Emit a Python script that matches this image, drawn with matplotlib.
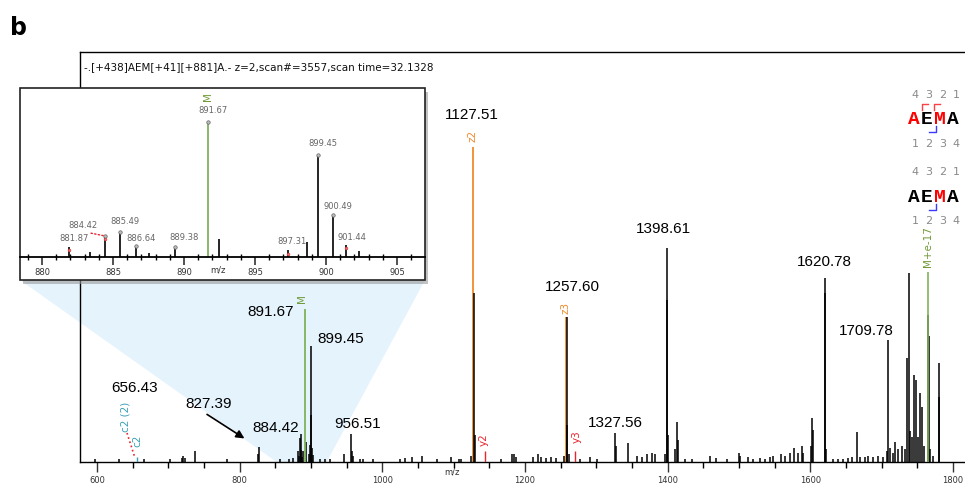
import numpy as np
import matplotlib.pyplot as plt
from matplotlib.patches import Rectangle, Polygon
from matplotlib.lines import Line2D

W, H = 965, 488

# ---- main spectrum (relative intensity, 1127.51 = 100) ----
main_mz = [597, 631, 666, 703, 719, 721, 723, 738, 782, 826, 827.4, 856.5, 869, 875,
           912.6, 919.6, 926.6, 946, 956.5, 957.5, 959, 968.7, 973, 986.5,
           1024.8, 1031.8, 1041, 1055, 1076, 1097, 1108, 1111, 1125, 1128.3, 1129.5,
           1167, 1182, 1184, 1188, 1211, 1218, 1223, 1230, 1237, 1244, 1255, 1258.3,
           1259.5, 1262, 1277, 1291, 1300.5, 1326, 1327.6, 1345, 1356.6, 1363.5,
           1370.6, 1377.6, 1382, 1396.5, 1398.6, 1399.8, 1400.8, 1411, 1413.5, 1414.5,
           1424, 1433.7, 1459, 1467.8, 1482.8, 1500, 1501.5, 1513, 1520, 1529.5,
           1536.5, 1543.5, 1548, 1558.5, 1564.5, 1571.5, 1577.5, 1583, 1588, 1590,
           1601, 1602.5, 1603.5, 1620.2, 1620.9, 1622, 1632, 1639, 1646, 1653, 1658,
           1665, 1670, 1677, 1681, 1688.5, 1695.5, 1702.5, 1707, 1709.3, 1712, 1716.4,
           1719, 1723, 1728, 1733, 1735.6, 1738.4, 1740, 1742, 1745, 1748, 1751, 1754,
           1756.6, 1760, 1764.5, 1766, 1768, 1772, 1780, 1781]
main_int = [1.0, 0.8, 1.0, 1.0, 1.2, 1.8, 1.2, 3.5, 0.8, 2.5, 4.8, 1.0, 1.0, 1.2,
            1.0, 1.0, 1.0, 2.5, 8.9, 3.5, 2.0, 1.0, 1.0, 1.0,
            1.0, 1.2, 1.5, 2.0, 1.0, 1.5, 1.0, 1.0, 2.0, 53.7, 8.6,
            0.8, 2.5, 2.5, 1.5, 1.5, 2.5, 1.5, 1.2, 1.5, 1.2, 2.0, 46.0,
            11.7, 2.5, 1.0, 1.5, 1.0, 9.2, 5.0, 6.0, 2.0, 1.5,
            2.5, 3.0, 2.5, 2.5, 68.0, 51.4, 8.6, 4.0, 12.7, 7.0,
            1.0, 0.8, 2.0, 1.2, 1.0, 3.0, 2.0, 1.5, 1.0, 1.2,
            1.0, 1.5, 2.0, 2.5, 2.0, 3.0, 4.5, 3.0, 5.0, 3.0,
            5.0, 14.0, 10.2, 58.4, 53.7, 4.0, 1.0, 1.0, 1.0, 1.2, 1.5,
            9.5, 1.5, 1.5, 2.0, 1.5, 2.0, 1.5, 3.5, 38.7, 4.5, 3.0,
            6.4, 4.0, 5.0, 4.0, 33.0, 60.0, 10.0, 8.0, 27.6, 26.0, 8.0, 22.0,
            17.5, 5.0, 46.7, 40.0, 4.0, 2.0, 31.4, 20.6]

# annotated fragment peaks
orange_mz = [1127.5, 1257.6]
orange_int = [100.0, 46.0]
orange_lab = ['z2', 'z3']
red_mz = [1144, 1270]
red_int = [3.5, 3.5]
red_lab = ['y2', 'y3']
green_mz = 1765.2
green_int = 60.3
c2_mz = 656.4
c2_int = 1.5

# ---- zoomed region 878-907 (891.67 = 100) ----
inset_mz = [881.87, 883.4, 884.42, 885.49, 886.64, 887.5, 889.38, 891.67, 892.46,
            897.31, 898.65, 899.45, 900.49, 901.44, 902.3]
inset_int = [7.4, 3.7, 15.6, 18.5, 8.0, 3.0, 7.4, 100, 13.3,
             5.0, 11.0, 75.6, 31.0, 8.9, 4.4]
inset_scale = 0.486  # 891.67 height in the main spectrum / 100

# labelled masses in main panel: (text, mz, offset x px, offset y px)
main_labels = [('1127.51', 1127.5, -1, 32), ('1257.60', 1257.6, 6, 30),
               ('1398.61', 1398.6, -3, 19), ('1327.56', 1326, 1, 10),
               ('1620.78', 1620.2, 0, 16), ('1709.78', 1709.3, -22, 9),
               ('899.45', 899.45, 30, 7), ('884.42', 884.42, -24, 10),
               ('956.51', 956.5, 6, 10), ('656.43', 656.4, -3, 69)]
inset_labels = [('891.67', 5, 11), ('899.45', 5, 11), ('900.49', 5, 9),
                ('884.42', -22, 10), ('885.49', 5, 10), ('881.87', 5, 8),
                ('886.64', 5, 8), ('889.38', 9, 9), ('897.31', 4, 9), ('901.44', 5, 7)]


def fx(x):
    return x / W


def fy(y):
    return 1 - y / H


fig = plt.figure(figsize=(W / 100, H / 100), dpi=100)
fig.patch.set_facecolor('white')

# main axes
ax = fig.add_axes([fx(80), fy(462), fx(965) - fx(80), fy(52) - fy(462)])
ax.set_xlim(576.2, 1816.9)
ax.set_ylim(0, 130.2)
ax.spines['right'].set_visible(False)
for s in ['top', 'left', 'bottom']:
    ax.spines[s].set_linewidth(1.0)
ax.set_yticks([])
ax.set_xticks(np.arange(600, 1801, 200))
ax.set_xticks(np.arange(600, 1801, 50), minor=True)
ax.tick_params(axis='x', which='major', length=7, width=1, labelsize=6, colors='#333333', pad=3)
ax.tick_params(axis='x', which='minor', length=4, width=1)

lw = 1.1
ax.vlines(main_mz, 0, main_int, color='black', lw=lw, zorder=3)
in_mz = np.array(inset_mz)
in_int = np.array(inset_int) * inset_scale
blk = in_mz != 891.67
ax.vlines(in_mz[blk], 0, in_int[blk], color='black', lw=lw, zorder=3)
ax.vlines(891.67, 0, 100 * inset_scale, color='#7fb35a', lw=1.3, zorder=3)
ax.vlines(orange_mz, 0, orange_int, color='#ef8a2c', lw=1.3, zorder=2)
ax.vlines(red_mz, 0, red_int, color='#e8242c', lw=1.0, zorder=3)
ax.vlines(green_mz, 0, green_int, color='#7fb35a', lw=1.2, zorder=4)
ax.vlines(c2_mz, 0, c2_int, color='#3a9fb5', lw=1.0, zorder=3)

all_mz = main_mz + orange_mz + list(in_mz) + [c2_mz]
all_int = main_int + orange_int + list(in_int) + [c2_int]
lab_font = dict(family='Liberation Sans', fontsize=11, color='black')
for txt, mz, dx, dy in main_labels:
    h = all_int[all_mz.index(mz)]
    ax.annotate(txt, (mz, h), xytext=(dx, dy), textcoords='offset pixels',
                ha='center', va='center', **lab_font)
ax.annotate('891.67', (891.67, 100 * inset_scale), xytext=(-34, -3), textcoords='offset pixels',
            ha='center', va='center', **lab_font)
ax.annotate('827.39', (827.4, 4.8), xytext=(-51, 43), textcoords='offset pixels',
            ha='center', va='center', **lab_font)
# arrow towards 827.39
ax.annotate('', xy=(810, 7.0), xytext=(751, 15.6),
            arrowprops=dict(arrowstyle='-|>', color='black', lw=1.2, mutation_scale=12))

ion_font = dict(family='DejaVu Sans', fontsize=7.5, rotation=90, ha='center', va='center')
for mz, h, t in zip(orange_mz, orange_int, orange_lab):
    ax.annotate(t, (mz, h), xytext=(-1, 11 if t == 'z2' else 9), textcoords='offset pixels',
                color='#ef8a2c', **ion_font)
for mz, h, t, dx, dy in zip(red_mz, red_int, red_lab, [-1, 2], [11, 14]):
    ax.annotate(t, (mz, h), xytext=(dx, dy), textcoords='offset pixels',
                color='#e8242c', **ion_font)
ax.annotate('M+e-17', (green_mz, green_int), xytext=(0, 26), textcoords='offset pixels',
            color='#6f9a35', **ion_font)
ax.annotate('M', (891.67, 100 * inset_scale), xytext=(-3, 10), textcoords='offset pixels',
            color='#6f9a35', **ion_font)
ax.annotate('c2', (c2_mz, c2_int), xytext=(0, 16), textcoords='offset pixels',
            color='#3a9fb5', **ion_font)
ax.annotate('c2 (2)', (c2_mz, c2_int), xytext=(-12, 40), textcoords='offset pixels',
            color='#3a9fb5', **ion_font)
ax.add_line(Line2D([fx(127), fx(135)], [fy(433), fy(458)], transform=fig.transFigure,
                   color='#e8242c', ls=':', lw=1.2, clip_on=False))
ax.text(fx(452), fy(472), 'm/z', transform=fig.transFigure, fontsize=6,
        color='#333333', ha='center', va='center')

# light blue zoom wedge
p_l = fig.transFigure.inverted().transform(ax.transData.transform((852, 0)))
p_r = fig.transFigure.inverted().transform(ax.transData.transform((922, 0)))
wedge = Polygon([(fx(20), fy(280)), (fx(425), fy(280)), tuple(p_r), tuple(p_l)],
                closed=True, transform=fig.transFigure, facecolor='#e5f3fc',
                edgecolor='none', clip_on=False, zorder=0.5)
ax.add_patch(wedge)

# header text
fig.text(fx(84), fy(67), '-.[+438]AEM[+41][+881]A.- z=2,scan#=3557,scan time=32.1328',
         fontsize=7.5, ha='left', va='center', color='#111111')
fig.text(fx(10), fy(28), 'b', fontsize=17, fontweight='bold', ha='left', va='center')

# inset frame with shadow
fig.patches.append(Rectangle((fx(23), fy(284)), fx(405), fy(88) - fy(280), transform=fig.transFigure,
                             facecolor='#9a9a9a', edgecolor='none', alpha=0.6, zorder=1))
fig.patches.append(Rectangle((fx(20), fy(280)), fx(405), fy(88) - fy(280), transform=fig.transFigure,
                             facecolor='white', edgecolor='#222222', lw=1.2, zorder=1.5))

axi = fig.add_axes([fx(20), fy(257), fx(405), fy(88) - fy(257)])
axi.set_zorder(3)
axi.patch.set_visible(False)
axi.set_xlim(878.45, 906.97)
axi.set_ylim(0, 125)
for s in ['top', 'left', 'right']:
    axi.spines[s].set_visible(False)
axi.spines['bottom'].set_linewidth(1.3)
axi.set_yticks([])
axi.set_xticks(np.arange(880, 906, 5))
axi.set_xticks(np.arange(879, 907, 1), minor=True)
axi.tick_params(axis='x', which='major', direction='out', length=6, width=1.2,
                labelsize=6, colors='#333333', pad=2)
axi.tick_params(axis='x', which='minor', direction='inout', length=4, width=1)

ib = np.array(inset_mz) != 891.67
axi.vlines(np.array(inset_mz)[ib], 0, np.array(inset_int)[ib], color='black', lw=1.2)
axi.vlines(891.67, 0, 100, color='#7fb35a', lw=1.3)
mark_mz = [884.42, 885.49, 886.64, 889.38, 891.67, 899.45, 900.49]
mark_int = [inset_int[inset_mz.index(m)] for m in mark_mz]
axi.plot(mark_mz, mark_int, 'o', ms=2.5, mfc='#bbbbbb', mec='#666666', mew=0.5, ls='none')
red_mark = [881.87, 884.42, 897.31, 901.44]
axi.plot(red_mark, [inset_int[inset_mz.index(m)] - 2.5 for m in red_mark], 'o', ms=2,
         mfc='#f07070', mec='#d03030', mew=0.4, ls='none')
for txt, dx, dy in inset_labels:
    m = float(txt)
    h = inset_int[inset_mz.index(m)]
    kw = {}
    if txt == '884.42':
        kw = dict(arrowprops=dict(arrowstyle='-', color='#e8242c', ls=':', lw=1.0,
                                  relpos=(0.3, 0.0), shrinkA=0, shrinkB=1))
    axi.annotate(txt, (m, h), xytext=(dx, dy), textcoords='offset pixels', ha='center',
                 va='center', fontsize=6, color='#666666', **kw)
axi.annotate('M', (891.67, 100), xytext=(0, 25), textcoords='offset pixels',
             color='#6f9a35', **ion_font)
axi.text(fx(218), fy(270), 'm/z', transform=fig.transFigure, fontsize=6, color='#333333',
         ha='center', va='center')

# sequence coverage graphic
num_x = [915, 929, 943, 956]
let_x = [914, 927, 940, 953]
seq = 'AEMA'
for top, cols in [(95, ['red', 'black', 'red', 'black']), (172, ['black', 'black', 'red', 'black'])]:
    for i in range(4):
        fig.text(fx(num_x[i]), fy(top), str(4 - i), fontsize=8, color='#8a8a8a',
                 ha='center', va='center')
        fig.text(fx(num_x[i]), fy(top + 49), str(i + 1), fontsize=8, color='#8a8a8a',
                 ha='center', va='center')
        fig.text(fx(let_x[i]), fy(top + 25), seq[i], fontsize=14, fontweight='bold',
                 family='Liberation Mono', color=cols[i], ha='center', va='center')
# cleavage brackets
for x0 in [922, 934]:
    fig.lines.append(Line2D([fx(x0), fx(x0), fx(x0 + 6)], [fy(110), fy(104), fy(104)],
                            transform=fig.transFigure, color='#ff4040', lw=1.0))
for yb in [128, 206]:
    fig.lines.append(Line2D([fx(929), fx(936), fx(936)], [fy(yb + 4), fy(yb + 4), fy(yb - 2)],
                            transform=fig.transFigure, color='#3a3aff', lw=1.0))

fig.savefig('out.png', dpi=100)
